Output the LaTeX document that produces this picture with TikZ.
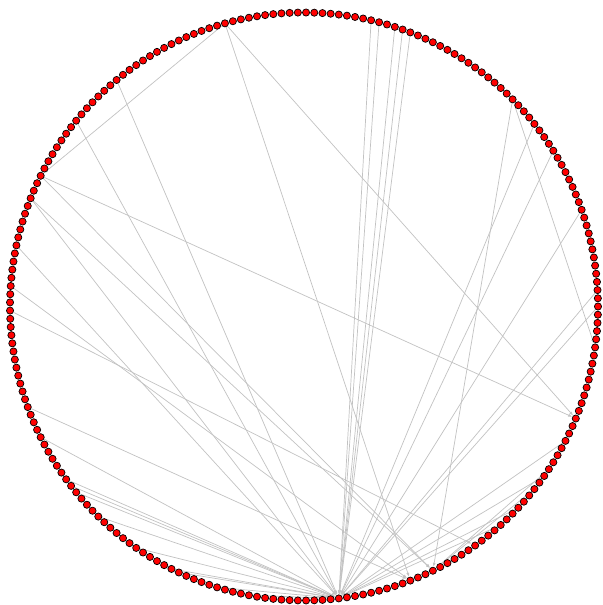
\documentclass[tikz,border=0pt]{standalone}
\usetikzlibrary{arrows.meta, backgrounds}

\begin{document}
\begin{tikzpicture}[
  x=0.03cm, y=0.03cm,
  vert/.style={circle, draw=black, fill=red, line width=0.6pt,
               inner sep=0pt, minimum size=0.215cm},
  link/.style={-{Latex[length=3.5pt,width=2.6pt]}, draw=black!24,
               line width=0.6pt}
]
\useasboundingbox (0,0) rectangle (602,605);

% vertices round the ring, 225 of them
\foreach \i in {0,...,224}
  \node[vert] (n\i) at ({304+294*cos(1.6*\i)}, {298.5+294*sin(1.6*\i)}) {};

% links, most of them into the hub n173
\begin{scope}[on background layer]
\foreach \a/\b in {43/173, 44/173, 45/173, 47/173, 48/173, 81/173, 88/173,
                   99/173, 105/173, 129/173, 135/173, 136/173, 137/173,
                   141/173, 147/173, 152/173, 153/173, 158/173, 162/173,
                   0/173, 2/173, 12/173, 20/173, 24/173, 195/173, 198/173,
                   203/173, 208/173,
                   66/96, 66/211, 96/211, 66/182, 96/185, 113/191, 125/182,
                   99/185, 28/185, 28/220, 201/185, 204/185, 110/182}
  \draw[link] (n\a) -- (n\b);
\end{scope}
\end{tikzpicture}
\end{document}
